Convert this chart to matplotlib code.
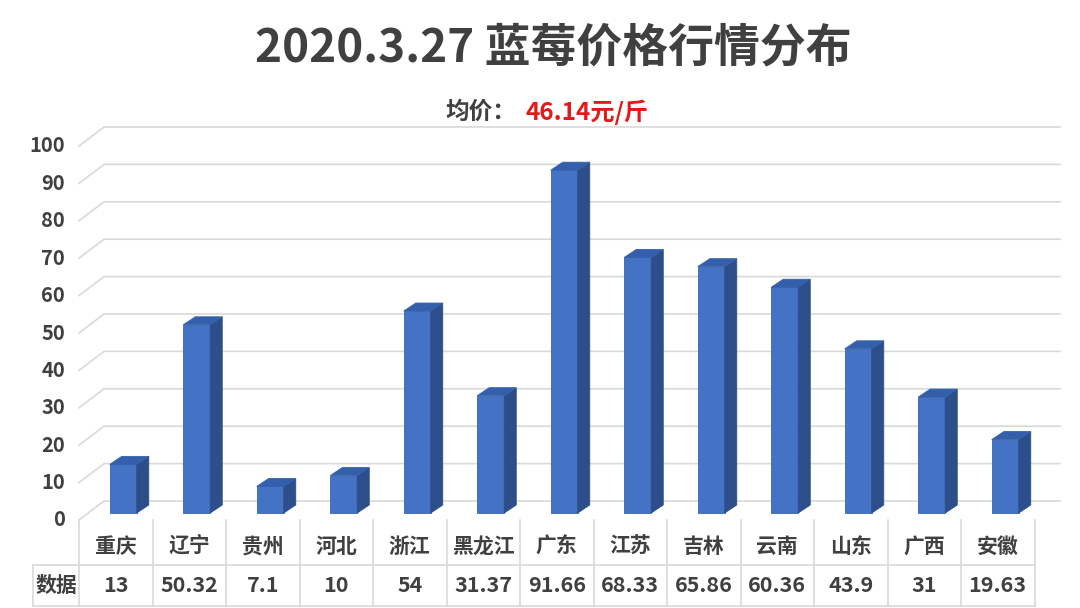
import matplotlib.pyplot as plt
from matplotlib.patches import Polygon

plt.rcParams['font.family'] = ['Noto Sans CJK SC', 'DejaVu Sans']

# 数据
provinces = ['重庆', '辽宁', '贵州', '河北', '浙江', '黑龙江', '广东',
             '江苏', '吉林', '云南', '山东', '广西', '安徽']
prices = [13, 50.32, 7.1, 10, 54, 31.37, 91.66, 68.33, 65.86, 60.36, 43.9, 31, 19.63]
price_labels = ['13', '50.32', '7.1', '10', '54', '31.37', '91.66',
                '68.33', '65.86', '60.36', '43.9', '31', '19.63']
yticks = list(range(0, 101, 10))
avg_price = '46.14元/斤'

# 像素 -> 数据 的比例 (按参考图量出来的)
PX_X = 73.5   # 每个类别的像素宽度
PX_Y = 3.74   # 每 1 个单位的像素高度

fig = plt.figure(figsize=(10.8, 6.08), dpi=100)
ax = fig.add_axes([0, 0, 1, 1])
ax.set_xlim(-0.5 - 79 / PX_X, -0.5 + (1080 - 79) / PX_X)
ax.set_ylim(-88 / PX_Y, 520 / PX_Y)
ax.axis('off')

grid_c = '#d9d9d9'
text_c = '#404040'

# 三维效果的偏移
gx = 25 / PX_X
gy = 19 / PX_Y
x_left = -0.5
x_right = -0.5 + (1060 - 79) / PX_X

# 网格线
for t in yticks:
    ax.plot([x_left, x_left + gx, x_right], [t, t + gy, t + gy],
            color=grid_c, lw=1.2, zorder=1)
    ax.text(x_left - 14 / PX_X, t, str(t), ha='right', va='center',
            fontsize=14.5, fontweight='bold', color=text_c)

# 柱子
bx0 = -6 / PX_X
bw = 27 / PX_X
dx = 12 / PX_X
dy = 8 / PX_Y
base = 7 / PX_Y
for i, v in enumerate(prices):
    x0 = i + bx0
    x1 = x0 + bw
    b = base
    top = base + v
    front = Polygon([(x0, b), (x1, b), (x1, top), (x0, top)],
                    closed=True, fc='#4472c4', ec='#3b64ad', lw=0.6, zorder=3)
    side = Polygon([(x1, b), (x1 + dx, b + dy), (x1 + dx, top + dy), (x1, top)],
                   closed=True, fc='#2c4f8c', ec='#2c4f8c', lw=0.6, zorder=3)
    cap = Polygon([(x0, top), (x1, top), (x1 + dx, top + dy), (x0 + dx, top + dy)],
                  closed=True, fc='#3460ab', ec='#3460ab', lw=0.6, zorder=3)
    for p in (front, side, cap):
        ax.add_patch(p)

# 数据表
n = len(provinces)
y_top = 0
y_mid = -45 / PX_Y
y_bot = -86 / PX_Y
x_tab_left = -0.5 - 46 / PX_X
tab_right = n - 0.5
for k in range(n + 1):
    ax.plot([k - 0.5, k - 0.5], [y_top, y_bot], color=grid_c, lw=1.2, zorder=1)
ax.plot([x_tab_left, tab_right], [y_mid, y_mid], color=grid_c, lw=1.2)
ax.plot([x_tab_left, tab_right], [y_bot, y_bot], color=grid_c, lw=1.2)
ax.plot([x_tab_left, x_tab_left], [y_mid, y_bot], color=grid_c, lw=1.2)

for i, (name, lab) in enumerate(zip(provinces, price_labels)):
    ax.text(i, (y_top + y_mid) / 2 - 1, name, ha='center', va='center',
            fontsize=15, fontweight='bold', color=text_c)
    ax.text(i, (y_mid + y_bot) / 2, lab, ha='center', va='center',
            fontsize=15.5, fontweight='bold', color=text_c)
ax.text((x_tab_left + x_left) / 2, (y_mid + y_bot) / 2, '数据', ha='center',
        va='center', fontsize=15, fontweight='bold', color=text_c)

# 标题
fig.text(553 / 1080, 1 - 48 / 608, '2020.3.27 蓝莓价格行情分布', ha='center',
         va='center', fontsize=33, fontweight='bold', color=text_c)
fig.text(445 / 1080, 1 - 112 / 608, '均价：', ha='left', va='center',
         fontsize=17, fontweight='bold', color=text_c)
fig.text(526 / 1080, 1 - 112 / 608, avg_price, ha='left', va='center',
         fontsize=17.5, fontweight='bold', color='#e31a1a')

fig.savefig('out.png', dpi=100)
